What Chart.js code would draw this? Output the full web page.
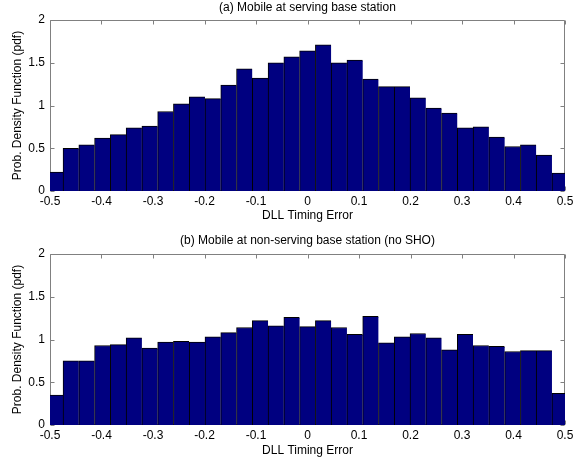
<!DOCTYPE html>
<html>
<head>
<meta charset="utf-8">
<script src="https://cdn.jsdelivr.net/npm/chart.js@4.4.0/dist/chart.umd.min.js"></script>
<style>
  html, body { margin: 0; padding: 0; background: #fff; }
  #wrap { position: relative; width: 579px; height: 463px; }
  canvas { position: absolute; left: 0; }
</style>
</head>
<body>
<div id="wrap">
  <canvas id="chartServing" width="579" height="232" style="top:0px"></canvas>
  <canvas id="chartNonServing" width="579" height="233" style="top:230px"></canvas>
</div>
<script>
// histogram bin centres (DLL timing error, chips)
var binCenters = [
  -0.49, -0.459375, -0.42875, -0.398125, -0.3675, -0.336875, -0.30625, -0.275625,
  -0.245, -0.214375, -0.18375, -0.153125, -0.1225, -0.091875, -0.06125, -0.030625,
  0,
  0.030625, 0.06125, 0.091875, 0.1225, 0.153125, 0.18375, 0.214375, 0.245,
  0.275625, 0.30625, 0.336875, 0.3675, 0.398125, 0.42875, 0.459375, 0.49
];

// (a) mobile at serving base station
var pdfServing = [
  0.22, 0.50, 0.54, 0.62, 0.66, 0.74, 0.76, 0.93, 1.02, 1.10, 1.08,
  1.24, 1.43, 1.32, 1.50, 1.57, 1.64, 1.71, 1.50, 1.53, 1.31, 1.22,
  1.22, 1.09, 0.97, 0.91, 0.74, 0.75, 0.63, 0.52, 0.54, 0.42, 0.21
];

// (b) mobile at non-serving base station (no SHO)
var pdfNonServing = [
  0.35, 0.75, 0.75, 0.93, 0.94, 1.02, 0.90, 0.97, 0.98, 0.97, 1.03,
  1.08, 1.14, 1.22, 1.16, 1.26, 1.15, 1.22, 1.14, 1.06, 1.27, 0.96,
  1.03, 1.07, 1.02, 0.88, 1.06, 0.93, 0.92, 0.86, 0.87, 0.87, 0.37
];

var xTickValues = [-0.5, -0.4, -0.3, -0.2, -0.1, 0, 0.1, 0.2, 0.3, 0.4, 0.5];
var xTickLabels = ['-0.5', '-0.4', '-0.3', '-0.2', '-0.1', '0', '0.1', '0.2', '0.3', '0.4', '0.5'];
var yTickValues = [0, 0.5, 1, 1.5, 2];
var yTickLabels = ['0', '0.5', '1', '1.5', '2'];

var FONT = { family: '"Liberation Sans", Arial, Helvetica, sans-serif', size: 12 };

// matlab style box with inward ticks, drawn under the bars
var boxTicks = {
  id: 'boxTicks',
  beforeDatasetsDraw: function (chart) {
    var ctx = chart.ctx, a = chart.chartArea;
    var xs = chart.scales.x, ys = chart.scales.y;
    var L = Math.round(a.left) + 0.5, R = Math.round(a.right) - 0.5;
    var T = Math.round(a.top) + 0.5, B = Math.round(a.bottom) - 0.5;
    ctx.save();
    ctx.strokeStyle = '#808080';
    ctx.lineWidth = 1;
    ctx.beginPath();
    xs.ticks.forEach(function (t) {
      var px = Math.round(xs.getPixelForValue(t.value)) + 0.5;
      ctx.moveTo(px, T); ctx.lineTo(px, T + 4);
      ctx.moveTo(px, B); ctx.lineTo(px, B - 4);
    });
    ys.ticks.forEach(function (t) {
      var py = Math.round(ys.getPixelForValue(t.value)) + 0.5;
      ctx.moveTo(L, py); ctx.lineTo(L + 4, py);
      ctx.moveTo(R, py); ctx.lineTo(R - 4, py);
    });
    ctx.rect(L, T, R - L, B - T);
    ctx.stroke();
    ctx.restore();
  }
};

function makeChart(id, title, values, areaTop, titlePadTop, xAxisHeight, xTitlePad) {
  var ctx = document.getElementById(id).getContext('2d');
  return new Chart(ctx, {
    type: 'bar',
    data: {
      datasets: [{
        data: binCenters.map(function (c, i) { return { x: c, y: values[i] }; }),
        xAxisID: 'x',
        yAxisID: 'y',
        backgroundColor: '#000080',
        borderColor: '#000000',
        borderWidth: { top: 1, left: 1, right: 0, bottom: 0 },
        borderSkipped: false,
        barPercentage: 1,
        categoryPercentage: 1,
        clip: 0
      }]
    },
    options: {
      responsive: false,
      animation: false,
      devicePixelRatio: 1,
      layout: { padding: { left: 0, right: 14, top: 0, bottom: 0 } },
      plugins: {
        legend: { display: false },
        tooltip: { enabled: false },
        title: { display: false }
      },
      scales: {
        x: {
          type: 'linear',
          min: -0.5,
          max: 0.5,
          offset: false,
          grid: { display: false, drawTicks: false },
          border: { display: false },
          afterBuildTicks: function (s) {
            s.ticks = xTickValues.map(function (v) { return { value: v }; });
          },
          afterFit: function (s) { s.height = xAxisHeight; },
          ticks: {
            color: '#000',
            font: FONT,
            padding: 3,
            maxRotation: 0,
            autoSkip: false,
            callback: function (v) { return xTickLabels[xTickValues.indexOf(v)]; }
          },
          title: {
            display: true,
            text: 'DLL Timing Error',
            color: '#000',
            font: FONT,
            padding: { top: 0, bottom: xTitlePad }
          }
        },
        // top axis only carries the subplot title, centred over the axes box
        xTop: {
          type: 'linear',
          position: 'top',
          min: -0.5,
          max: 0.5,
          offset: false,
          grid: { display: false, drawTicks: false },
          border: { display: false },
          ticks: { display: false },
          afterFit: function (s) { s.height = areaTop; },
          title: {
            display: true,
            text: title,
            color: '#000',
            font: FONT,
            padding: { top: titlePadTop, bottom: 0 }
          }
        },
        y: {
          min: 0,
          max: 2,
          grid: { display: false, drawTicks: false },
          border: { display: false },
          afterBuildTicks: function (s) {
            s.ticks = yTickValues.map(function (v) { return { value: v }; });
          },
          afterFit: function (s) { s.width = 50; },
          ticks: {
            color: '#000',
            font: FONT,
            padding: 5,
            callback: function (v) { return yTickLabels[yTickValues.indexOf(v)]; }
          },
          title: {
            display: true,
            text: 'Prob. Density Function (pdf)',
            color: '#000',
            font: FONT,
            padding: { top: 10.5, bottom: 0 }
          }
        }
      }
    },
    plugins: [boxTicks]
  });
}

makeChart('chartServing', '(a) Mobile at serving base station', pdfServing,
  20, 0.1, 41, 8.8);
makeChart('chartNonServing', '(b) Mobile at non-serving base station (no SHO)', pdfNonServing,
  24, 3.5, 38, 5.3);
</script>
</body>
</html>
